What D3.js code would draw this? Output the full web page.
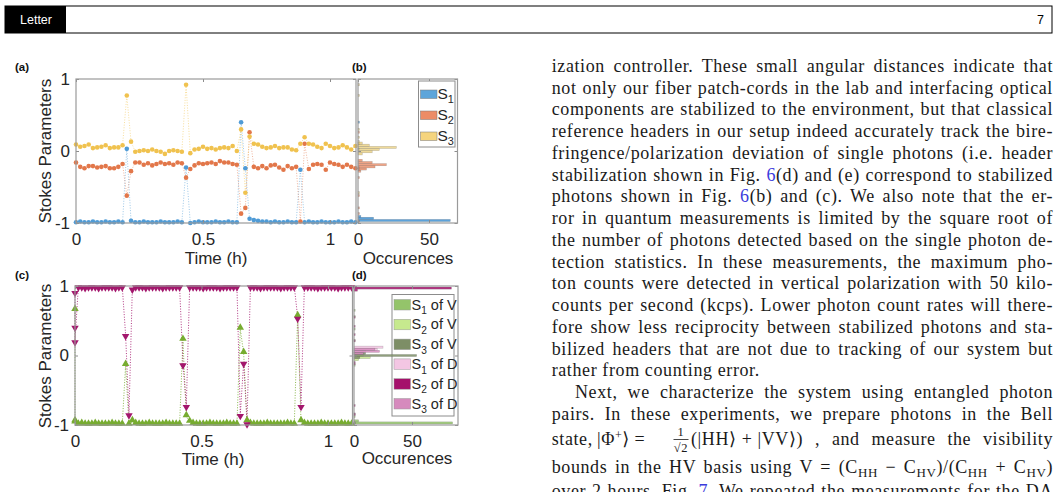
<!DOCTYPE html>
<meta charset="utf-8">
<style>
body { margin: 0; background: #fff; }
svg { display: block; font-family: "Liberation Sans", Arial, sans-serif; }
.tick text { font-size: 17px; fill: #262626; }
.tick line { stroke: #8c8c8c; }
.axis-title { font-size: 17px; fill: #262626; }
.panel-label { font-size: 11.5px; font-weight: bold; fill: #111; }
.frame { fill: none; stroke: #9a9a9a; stroke-width: 1.2; }
.body-text { font-family: "Liberation Serif", "DejaVu Serif", serif; font-size: 18px; fill: #1a1a1a; letter-spacing: 0.6px; }
.link { fill: #3b3bdc; }
</style>
<body>
<script src="https://cdn.jsdelivr.net/npm/d3@7"></script>
<script>
// ---- data panel (a): headers, minutes
var timeA = [0,1,2,3,4,5,6,7,8,9,10,11,12,13,14,15,16,17,18,19,20,21,22,23,24,25,26,27,28,29,30,31,32,33,34,35,36,37,38,39,40,41,42,43,44,45,46,47,48,49,50,51,52,53,54,55,56,57,58,59,60,61,62,63,64,65,66];
var s1A = [-0.99,-0.98,-0.99,-0.99,-0.98,-0.99,-0.99,-0.98,-0.99,-0.99,-0.98,-0.99,
  0.03,-0.97,
  -0.99,-0.99,-0.98,-0.99,-0.99,-0.99,-0.98,-0.99,-0.99,-0.99,-0.98,-0.99,
  -0.23,-1.0,
  -0.99,-0.98,-0.99,-0.99,-0.99,-0.98,-0.99,-0.99,-0.98,-0.99,-0.99,
  0.40,-0.24,-0.94,-0.96,
  -0.97,-0.98,-0.98,-0.99,-0.98,-0.99,-0.99,-0.98,-0.99,-0.99,
  -0.26,-0.99,
  -0.98,-0.99,-0.99,-0.98,-0.99,-0.99,-0.99,-0.98,-0.99,-0.99,-0.98,-0.99];
var s2A = [-0.16,-0.22,-0.24,-0.21,-0.21,-0.23,-0.22,-0.21,-0.24,-0.24,-0.22,-0.18,
  -0.62,-0.28,
  -0.16,-0.16,-0.19,-0.17,-0.20,-0.18,-0.16,-0.18,-0.17,-0.19,-0.16,-0.17,
  -0.37,-0.25,
  -0.20,-0.17,-0.18,-0.17,-0.16,-0.18,-0.14,-0.16,-0.16,-0.18,-0.19,
  -0.87,-0.79,0.26,-0.22,
  -0.24,-0.21,-0.24,-0.20,-0.19,-0.23,-0.26,-0.21,-0.24,-0.22,
  -0.98,0.10,
  -0.25,-0.19,-0.18,-0.19,-0.26,-0.16,-0.18,-0.19,-0.22,-0.19,-0.22,-0.24];
var s3A = [0.09,0.06,0.07,0.09,0.04,0.05,0.06,0.08,0.04,0.05,0.05,0.08,
  0.77,0.13,
  -0.01,0.00,0.01,0.00,0.02,0.00,-0.01,-0.04,0.00,0.01,0.00,-0.01,
  0.92,-0.03,
  0.02,0.03,0.06,0.03,0.04,0.02,0.04,0.05,0.04,0.07,0.00,
  0.30,-0.58,0.20,0.10,
  0.09,0.06,0.04,0.05,0.07,0.04,0.05,0.05,0.02,0.01,
  0.10,0.19,
  0.10,0.09,0.06,0.04,0.10,0.07,0.04,0.05,0.08,0.05,0.02,0.07];

// ---- data panel (b): histogram bins (value, occurences)
var histBVal1 = [-0.965,-0.935,-0.91,-0.26,-0.23,0.03,0.40];
var histBCnt1 = [65,11,2,1,1,1,1];
var histBVal2 = [-0.28,-0.25,-0.22,-0.19,-0.16,-0.13,-0.98,-0.87,-0.79,-0.62,-0.37,0.10,0.26];
var histBCnt2 = [2,6,12,20,10,3,1,1,1,1,1,1,1];
var histBVal3 = [-0.04,-0.01,0.02,0.05,0.08,0.11,0.13,0.19,0.30,0.77,0.92,-0.58];
var histBCnt3 = [3,10,15,27,8,3,1,1,1,1,1,1];

// ---- data panel (c): photons, minutes
var timeC = [0,0,0,0.8,1.6,2.4,3.2,4,4.8,5.6,6.4,7.2,8,8.8,9.6,10.4,11.2,12,12.8,13.6,14.4,15.2,16,
  16.8,17.6,18.4,19.2,20,20.8,21.6,22.4,23.2,24,24.8,25.6,26.4,27.2,28,28.8,29.6,30.4,31.2,32,
  32.8,33.6,34.4,35.2,36,36.8,37.6,38.4,39.2,40,40.8,41.6,42.4,43.2,44,44.8,45.6,46.4,47.2,48,
  48.8,49.6,50.4,51.2,52,52.8,53.6,54.4,55.2,56,56.8,57.6,58.4,59.2,60,60.8,61.6,62.4,63.2,64,64.8,65.6];
var s1V = [0.65,-0.95,-0.97,
  -1,-0.99,-1,-1,-1,-0.99,-1,-1,-1,-1,-0.99,-1,-1,-1,
  -0.14,-1,-0.95,
  -0.99,-1,-1,-1,-0.99,-1,-1,-1,-1,-0.99,-1,-1,-1,-1,
  0.22,-0.88,-0.96,
  -0.99,-1,-1,-1,-1,-0.99,-1,-1,-1,-1,-0.99,-1,-1,-1,
  0.38,0.03,-0.95,
  -0.99,-1,-1,-1,-1,-0.99,-1,-1,-1,-1,-1,-0.99,-1,-1,
  0.56,-0.95,
  -0.99,-1,-1,-1,-1,-0.99,-1,-1,-1,-1,-1,-0.99,-1,-1,-1];
var s2D = [0.92,0.42,0.21,
  1,1,0.99,1,1,1,0.99,1,1,1,1,0.99,1,1,
  0.30,-0.84,0.97,
  1,1,1,0.99,1,1,1,1,0.99,1,1,1,1,1,
  -0.12,-0.72,
  1,1,1,1,0.99,1,1,1,1,0.99,1,1,1,1,1,
  -0.85,-0.10,-0.97,
  1,1,1,0.99,1,1,1,1,1,0.99,1,1,1,1,
  0.55,-0.72,
  1,1,1,1,0.99,1,1,1,1,1,0.99,1,1,1,1];

// ---- data panel (d): histogram bins
var histDVal1 = [-0.97,-0.94,-0.88,-0.14,0.03,0.22,0.38,0.56,0.65];
var histDCnt1 = [85,4,1,1,1,1,1,1,1];
var histDVal2 = [-0.06,-0.03,0.00];
var histDCnt2 = [4,14,8];
var histDVal3 = [-0.03,0.00,0.03];
var histDCnt3 = [5,54,10];
var histDVal4 = [0.06,0.09,0.12];
var histDCnt4 = [10,20,25];
var histDVal5 = [0.97,0.94,0.55,0.42,0.30,0.21,-0.10,-0.12,-0.72,-0.84,-0.85,-0.97];
var histDCnt5 = [84,3,1,1,1,1,1,1,1,1,1,1];
var histDVal6 = [0.03,0.06,0.09];
var histDCnt6 = [8,22,18];

var hoursTicks = [0, 30, 60];
var hoursLabels = ["0", "0.5", "1"];
var stokesTicks = [-1, 0, 1];
var countTicks = [0, 50];

var colA = ["#4f9bd6", "#e2774a", "#f0c24f"];
var colBHist = ["#4a98d6", "#e8845c", "#e9cd78"];
var colBLegend = ["#5da5da", "#ec8c66", "#f5d47e"];
var colV = "#77ac30", colD = "#a3176d";
var colDHist = ["#94c46a", "#c6e98e", "#7d8e66", "#f3c6e3", "#a5106b", "#d68abd"];

var svg = d3.select("body").append("svg").attr("width", 1060).attr("height", 492);

// ---- page header
svg.append("rect").attr("x", 5).attr("y", 6).attr("width", 1047).attr("height", 27)
    .attr("fill", "none").attr("stroke", "#000").attr("stroke-width", 1);
svg.append("rect").attr("x", 5).attr("y", 6).attr("width", 61).attr("height", 27).attr("fill", "#000");
svg.append("text").attr("x", 36).attr("y", 24).attr("text-anchor", "middle").attr("fill", "#fff")
    .style("font-size", "12.5px").text("Letter");
svg.append("text").attr("x", 1044).attr("y", 24).attr("text-anchor", "end").style("font-size", "12.5px").text("7");

// axes box with inward ticks on all sides
function drawFrame(g, x, y, xTicks, xLabels, yLabels) {
  var x0 = x.range()[0], x1 = x.range()[1], y0 = y.range()[1], y1 = y.range()[0];
  g.append("g").attr("transform", "translate(0," + y1 + ")")
    .call(d3.axisBottom(x).tickValues(xTicks).tickSize(-3).tickPadding(10)
      .tickFormat(function(d, i) { return xLabels[i]; }));
  g.append("g").attr("transform", "translate(0," + y0 + ")")
    .call(d3.axisTop(x).tickValues(xTicks).tickSize(-3).tickFormat(""));
  g.append("g").attr("transform", "translate(" + x0 + ",0)")
    .call(d3.axisLeft(y).tickValues(stokesTicks).tickSize(-3).tickPadding(6)
      .tickFormat(function(d) { return yLabels ? String(d) : ""; }));
  g.append("g").attr("transform", "translate(" + x1 + ",0)")
    .call(d3.axisRight(y).tickValues(stokesTicks).tickSize(-3).tickFormat(""));
  g.selectAll(".domain").remove();
  g.selectAll(".tick text").attr("font-family", null).attr("font-size", null);
  g.append("rect").attr("class", "frame")
    .attr("x", x0).attr("y", y0).attr("width", x1 - x0).attr("height", y1 - y0);
}

function drawHist(g, x, y, vals, counts, color, bw, op) {
  g.append("g").selectAll("rect").data(vals).enter().append("rect")
    .attr("x", x(0))
    .attr("y", function(d) { return y(d + bw / 2); })
    .attr("width", function(d, i) { return x(counts[i]) - x(0); })
    .attr("height", function(d) { return y(d - bw / 2) - y(d + bw / 2); })
    .attr("fill", color).attr("fill-opacity", op)
    .attr("stroke", "#4a4a4a").attr("stroke-opacity", 0.35).attr("stroke-width", 0.5);
}

function dottedLine(g, x, y, t, v, color, op) {
  g.append("path").datum(v)
    .attr("d", d3.line().x(function(d, i) { return x(t[i]); }).y(function(d) { return y(d); }))
    .attr("fill", "none").attr("stroke", color).attr("stroke-opacity", op)
    .attr("stroke-width", 1).attr("stroke-dasharray", "1,1.6");
}

function sLabel(g, x, yb, num, tail, size) {
  var t = g.append("text").attr("x", x).attr("y", yb).style("font-size", size + "px").attr("fill", "#262626");
  t.append("tspan").text("S");
  t.append("tspan").attr("dy", size * 0.32).style("font-size", (size * 0.7) + "px").text(num);
  if (tail) t.append("tspan").attr("dy", -size * 0.32).text(" " + tail);
}

// ================= panel (a)
var xA = d3.scaleLinear().domain([0, 66.14]).range([76, 356]);
var yA = d3.scaleLinear().domain([-1, 1]).range([223, 79]);
var gA = svg.append("g");
var seriesA = [s1A, s2A, s3A];
seriesA.forEach(function(s, k) { dottedLine(gA, xA, yA, timeA, s, colA[k], 0.55); });
seriesA.forEach(function(s, k) {
  gA.append("g").selectAll("circle").data(s).enter().append("circle")
    .attr("cx", function(d, i) { return xA(timeA[i]); })
    .attr("cy", function(d) { return yA(d); })
    .attr("r", 2.3).attr("fill", colA[k]);
});
drawFrame(gA, xA, yA, hoursTicks, hoursLabels, true);
svg.append("text").attr("class", "axis-title").attr("x", 216).attr("y", 264).attr("text-anchor", "middle").text("Time (h)");
svg.append("text").attr("class", "axis-title").attr("transform", "translate(51,151) rotate(-90)")
    .attr("text-anchor", "middle").text("Stokes Parameters");
svg.append("text").attr("class", "panel-label").attr("x", 15).attr("y", 71).text("(a)");

// ================= panel (b)
var xB = d3.scaleLinear().domain([0, 70.07]).range([358, 457.5]);
var gB = svg.append("g");
drawHist(gB, xB, yA, histBVal1, histBCnt1, colBHist[0], 0.03, 0.9);
drawHist(gB, xB, yA, histBVal2, histBCnt2, colBHist[1], 0.03, 0.75);
drawHist(gB, xB, yA, histBVal3, histBCnt3, colBHist[2], 0.03, 0.75);
drawFrame(gB, xB, yA, countTicks, ["0", "50"], false);
svg.append("text").attr("class", "axis-title").attr("x", 408).attr("y", 264).attr("text-anchor", "middle").text("Occurences");
svg.append("text").attr("class", "panel-label").attr("x", 352).attr("y", 71).text("(b)");
// legend (b)
var legB = svg.append("g");
legB.append("rect").attr("x", 418.5).attr("y", 81).attr("width", 36.5).attr("height", 66)
    .attr("fill", "#fff").attr("stroke", "#8c8c8c").attr("stroke-width", 1);
["1", "2", "3"].forEach(function(n, i) {
  legB.append("rect").attr("x", 420.5).attr("y", 90 + i * 21).attr("width", 16.5).attr("height", 8.5)
    .attr("fill", colBLegend[i]).attr("stroke", "#777").attr("stroke-width", 0.5);
  sLabel(legB, 437.5, 98.5 + i * 21, n, null, 15.5);
});

// ================= panel (c)
var xC = d3.scaleLinear().domain([0, 65.81]).range([75, 352.5]);
var yC = d3.scaleLinear().domain([-1, 1]).range([425, 286]);
var gC = svg.append("g");
dottedLine(gC, xC, yC, timeC, s1V, colV, 0.85);
dottedLine(gC, xC, yC, timeC, s2D, colD, 0.85);
var tri = d3.symbol().type(d3.symbolTriangle).size(24);
gC.append("g").selectAll("path").data(s1V).enter().append("path")
    .attr("d", tri)
    .attr("transform", function(d, i) { return "translate(" + xC(timeC[i]) + "," + (yC(d) - 1.5) + ")"; })
    .attr("fill", colV);
gC.append("g").selectAll("path").data(s2D).enter().append("path")
    .attr("d", tri)
    .attr("transform", function(d, i) { return "translate(" + xC(timeC[i]) + "," + (yC(d) + 1.5) + ") rotate(180)"; })
    .attr("fill", colD);
drawFrame(gC, xC, yC, hoursTicks, hoursLabels, true);
svg.append("text").attr("class", "axis-title").attr("x", 213).attr("y", 465).attr("text-anchor", "middle").text("Time (h)");
svg.append("text").attr("class", "axis-title").attr("transform", "translate(51,356) rotate(-90)")
    .attr("text-anchor", "middle").text("Stokes Parameters");
svg.append("text").attr("class", "panel-label").attr("x", 15).attr("y", 279).text("(c)");

// ================= panel (d)
var xD = d3.scaleLinear().domain([0, 89.66]).range([354, 458]);
var gD = svg.append("g");
// legend (d) sits under the bars here, the long bar near 0 runs across it
var legD = gD.append("g");
legD.append("rect").attr("x", 392).attr("y", 294.5).attr("width", 62).attr("height", 121.5)
    .attr("fill", "#fff").attr("stroke", "#8c8c8c").attr("stroke-width", 1);
var legDNames = [["1", "of V"], ["2", "of V"], ["3", "of V"], ["1", "of D"], ["2", "of D"], ["3", "of D"]];
legDNames.forEach(function(n, i) {
  legD.append("rect").attr("x", 394).attr("y", 299.5 + i * 19.8).attr("width", 16.5).attr("height", 10.5)
    .attr("fill", colDHist[i]).attr("stroke", "#999").attr("stroke-width", 0.5);
  sLabel(legD, 411.5, 309.5 + i * 19.8, n[0], n[1], 14.5);
});
var histD = [[histDVal1, histDCnt1], [histDVal2, histDCnt2], [histDVal3, histDCnt3],
             [histDVal4, histDCnt4], [histDVal5, histDCnt5], [histDVal6, histDCnt6]];
histD.forEach(function(h, k) { drawHist(gD, xD, yC, h[0], h[1], colDHist[k], 0.03, 0.85); });
drawFrame(gD, xD, yC, countTicks, ["0", "50"], false);
svg.append("text").attr("class", "axis-title").attr("x", 407).attr("y", 464).attr("text-anchor", "middle").text("Occurences");
svg.append("text").attr("class", "panel-label").attr("x", 352).attr("y", 279).text("(d)");

// ================= text column
var colLeft = 551.7, colRight = 1053;
var lines = [
  [["ization controller. These small angular distances indicate that"]],
  [["not only our fiber patch-cords in the lab and interfacing optical"]],
  [["components are stabilized to the environment, but that classical"]],
  [["reference headers in our setup indeed accurately track the bire-"]],
  [["fringence/polarization deviation of single photons (i.e. header"]],
  [["stabilization shown in Fig. "], ["6", 1], ["(d) and (e) correspond to stabilized"]],
  [["photons shown in Fig. "], ["6", 1], ["(b) and (c). We also note that the er-"]],
  [["ror in quantum measurements is limited by the square root of"]],
  [["the number of photons detected based on the single photon de-"]],
  [["tection statistics. In these measurements, the maximum pho-"]],
  [["ton counts were detected in vertical polarization with 50 kilo-"]],
  [["counts per second (kcps). Lower photon count rates will there-"]],
  [["fore show less reciprocity between stabilized photons and sta-"]],
  [["bilized headers that are not due to tracking of our system but"]],
  [["rather from counting error."]],
  [["Next, we characterize the system using entangled photon"]],
  [["pairs. In these experiments, we prepare photons in the Bell"]]
];

function justify(t, width) {
  var natural = t.node().getComputedTextLength();
  var spaces = (t.text().match(/ /g) || []).length;
  if (spaces > 0) t.style("word-spacing", ((width - natural) / spaces) + "px");
}

lines.forEach(function(segs, i) {
  var x0 = i === 15 ? 575 : colLeft;
  var t = svg.append("text").attr("class", "body-text").attr("x", x0).attr("y", 71.8 + i * 21.75);
  segs.forEach(function(s) { t.append("tspan").attr("class", s[1] ? "link" : null).text(s[0]); });
  if (i !== 14) justify(t, colRight - x0);
});

// state line with the Bell state
var yState = 445;
svg.append("text").attr("class", "body-text").attr("x", colLeft).attr("y", yState).text("state,");
var phi = svg.append("text").attr("class", "body-text").attr("x", 597).attr("y", yState);
phi.append("tspan").text("|\u03A6");
phi.append("tspan").attr("dy", -6).style("font-size", "12px").text("+");
phi.append("tspan").attr("dy", 6).text("\u27E9");
svg.append("text").attr("class", "body-text").attr("x", 640).attr("y", yState).attr("text-anchor", "middle").text("=");
svg.append("text").attr("class", "body-text").attr("x", 681).attr("y", 436).attr("text-anchor", "middle").style("font-size", "12.5px").text("1");
svg.append("line").attr("x1", 673.5).attr("x2", 688.5).attr("y1", 439.5).attr("y2", 439.5).attr("stroke", "#1a1a1a").attr("stroke-width", 0.8);
svg.append("text").attr("class", "body-text").attr("x", 681).attr("y", 452).attr("text-anchor", "middle").style("font-size", "12.5px").text("\u221A2");
svg.append("text").attr("class", "body-text").attr("x", 691).attr("y", yState).text("(|HH\u27E9 + |VV\u27E9)");
var tail = svg.append("text").attr("class", "body-text").attr("x", 815).attr("y", yState).text(", and measure the visibility");
justify(tail, colRight - 815);

// visibility formula line
var vis = svg.append("text").attr("class", "body-text").attr("x", colLeft).attr("y", 473);
vis.append("tspan").text("bounds in the HV basis using V = (C");
vis.append("tspan").attr("dy", 4).style("font-size", "13px").text("HH");
vis.append("tspan").attr("dy", -4).text(" \u2212 C");
vis.append("tspan").attr("dy", 4).style("font-size", "13px").text("HV");
vis.append("tspan").attr("dy", -4).text(")/(C");
vis.append("tspan").attr("dy", 4).style("font-size", "13px").text("HH");
vis.append("tspan").attr("dy", -4).text(" + C");
vis.append("tspan").attr("dy", 4).style("font-size", "13px").text("HV");
vis.append("tspan").attr("dy", -4).text(")");
justify(vis, colRight - colLeft);

var last = svg.append("text").attr("class", "body-text").attr("x", colLeft).attr("y", 497);
last.append("tspan").text("over 2 hours, Fig. ");
last.append("tspan").attr("class", "link").text("7");
last.append("tspan").text(". We repeated the measurements for the DA");
justify(last, colRight - colLeft);
</script>
</body>
